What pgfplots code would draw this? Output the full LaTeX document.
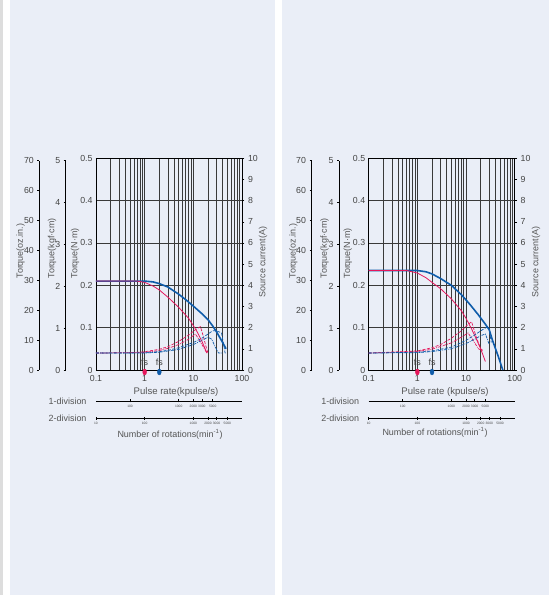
\documentclass[border=0pt]{standalone}
\usepackage{pgfplots}
\pgfplotsset{compat=1.18}
\usepackage{fontspec}
\setmainfont{Liberation Sans}
\definecolor{panel}{HTML}{EAEEF7}
\definecolor{strip}{HTML}{DDDDDD}
\definecolor{cred}{HTML}{E5175C}
\definecolor{cblue}{HTML}{0F5CAA}
\definecolor{txt}{HTML}{444444}
\definecolor{lbl}{HTML}{555555}
\definecolor{gridc}{HTML}{3A3A3A}
\tikzset{
  btq/.style={cblue, line width=1.6bp},
  rtq/.style={cred, line width=0.8bp},
  dsh/.style={line width=0.7bp, dash pattern=on 3bp off 1.5bp},
  dsd/.style={line width=0.7bp, dash pattern=on 3bp off 1bp on 0.8bp off 1bp},
  tlf/.style={font=\fontsize{8.8}{9}\selectfont, text=txt},
  fsf/.style={font=\fontsize{9}{9}\selectfont, text=txt},
}
\pgfplotsset{/pgf/number format/assume math mode=true}
\begin{document}
\begin{tikzpicture}
\fill[strip] (0bp,0bp) rectangle (3bp,595bp);
\fill[panel] (10bp,0bp) rectangle (275bp,595bp);
\fill[panel] (282bp,0bp) rectangle (549bp,595bp);
\useasboundingbox (0bp,0bp) rectangle (549bp,595bp);

% ================= LEFT PANEL =================
\begin{axis}[scale only axis, width=146bp, height=211.7bp, anchor=south west, at={(96bp,225bp)},
    xmode=log, xmin=0.1, xmax=100, ymin=0, ymax=0.5, clip=false,
    xtick={0.1,1,10,100}, xticklabels={0.1,1,10,100},
    minor xtick={0.2,0.3,0.4,0.5,0.6,0.7,0.8,0.9,2,3,4,5,6,7,8,9,20,30,40,50,60,70,80,90},
    ytick={0,0.1,0.2,0.3,0.4,0.5}, yticklabels={0,0.1,0.2,0.3,0.4,0.5},
    xmajorgrids, xminorgrids, ymajorgrids,
    major grid style={gridc, line width=0.7bp},
    minor grid style={gridc, line width=0.7bp},
    major tick length=0pt, minor tick length=0pt,
    tick label style={tlf}, xticklabel style={yshift=-1.5bp},
    axis line style={black, line width=0.8bp}]
\addplot[btq] coordinates {(0.1,0.21)(1,0.21)(1.5,0.208)(2,0.204)(3,0.196)(5,0.179)(7,0.166)(10,0.151)(15,0.133)(20,0.119)(25,0.104)(30,0.09)(40,0.065)(47,0.05)};
\addplot[rtq] coordinates {(0.1,0.21)(0.7,0.21)(1,0.207)(1.5,0.198)(2,0.189)(3,0.172)(5,0.148)(8,0.122)(10,0.105)(12,0.09)(15,0.068)(19,0.04)};
\addplot[only marks, mark=*, mark size=3bp, mark options={xscale=0.65, yshift=-2bp, draw=cred, fill=cred}] coordinates {(1,0)};
\addplot[only marks, mark=*, mark size=3bp, mark options={xscale=0.65, yshift=-2bp, draw=cblue, fill=cblue}] coordinates {(2,0)};
\node[fsf] at (axis cs:1,0.019) {fs};
\node[fsf] at (axis cs:2,0.019) {fs};
\end{axis}
\begin{axis}[scale only axis, width=146bp, height=211.7bp, anchor=south west, at={(96bp,225bp)},
    xmode=log, xmin=0.1, xmax=100, ymin=0, ymax=10,
    axis y line*=right, axis x line=none, ytick={0,1,...,10},
    tick align=outside, major tick length=2.5bp,
    tick style={black, line width=0.6bp}, tick label style={tlf},
    axis line style={black, line width=0.8bp}]
\addplot[cred, dsh] coordinates {(0.1,0.8)(0.5,0.82)(1,0.86)(2,0.98)(3,1.1)(5,1.35)(8,1.65)(11,1.9)(14,2.05)(16,1.6)(18,1.15)(20,0.8)};
\addplot[cred, dsd] coordinates {(0.1,0.8)(1,0.83)(2,0.92)(3,1.02)(5,1.2)(8,1.45)(11,1.7)(13,1.45)(16,1.1)(19,0.8)};
\addplot[cblue, dsh] coordinates {(0.1,0.8)(1,0.81)(2,0.87)(3,0.93)(5,1.05)(10,1.3)(15,1.5)(20,1.7)(25,1.85)(30,1.85)(38,1.75)(42,1.2)(45,0.8)(48,0.8)};
\addplot[cblue, dsd] coordinates {(0.1,0.8)(1,0.8)(2,0.84)(5,0.97)(10,1.2)(15,1.4)(20,1.55)(24,1.45)(28,1.1)(33,0.8)(40,0.8)};
\end{axis}
\begin{axis}[scale only axis, width=1bp, height=209.3bp, anchor=south west, at={(65.7bp,225bp)},
    xmin=0, xmax=1, ymin=0, ymax=5, ytick={0,1,...,5}, axis y line*=left, hide x axis,
    tick align=outside, major tick length=2bp,
    tick style={black, line width=0.6bp}, tick label style={tlf},
    axis line style={black, line width=0.8bp}]
\end{axis}
\begin{axis}[scale only axis, width=1bp, height=209.3bp, anchor=south west, at={(39.3bp,225bp)},
    xmin=0, xmax=1, ymin=0, ymax=70, ytick={0,10,...,70}, axis y line*=left, hide x axis,
    tick align=outside, major tick length=2bp,
    tick style={black, line width=0.6bp}, tick label style={tlf},
    axis line style={black, line width=0.8bp}]
\end{axis}
\begin{axis}[scale only axis, width=146bp, height=5bp, anchor=south west, at={(96bp,194bp)},
    xmode=log, xmin=0.1, xmax=100, ymin=0, ymax=1, axis x line*=bottom, hide y axis,
    xtick={0.5,5,10,15,25}, xticklabels={100,1000,2000,3000,5000},
    tick align=center, major tick length=3bp, minor tick length=0pt,
    tick style={black, line width=0.6bp},
    xticklabel style={font=\fontsize{3.3}{3.5}\selectfont, text=txt, yshift=1bp},
    axis line style={black, line width=0.6bp}]
\end{axis}
\begin{axis}[scale only axis, width=146bp, height=5bp, anchor=south west, at={(96bp,176.7bp)},
    xmode=log, xmin=0.1, xmax=100, ymin=0, ymax=1, axis x line*=bottom, hide y axis,
    xtick={0.1,1,10,20,30,50}, xticklabels={10,100,1000,2000,3000,5000},
    tick align=center, major tick length=3bp, minor tick length=0pt,
    tick style={black, line width=0.6bp},
    xticklabel style={font=\fontsize{3.3}{3.5}\selectfont, text=txt, yshift=1bp},
    axis line style={black, line width=0.6bp}]
\end{axis}
\begin{scope}[font=\fontsize{9}{9}\selectfont, text=lbl]
\node[rotate=90, anchor=west] at (20.5bp,313bp) {Torque(oz.in.)};
\node[rotate=90, anchor=west] at (52bp,313bp) {Torque(kgf·cm)};
\node[rotate=90, anchor=west] at (75bp,313bp) {Torque(N·m)};
\node[rotate=90] at (263bp,333bp) {Source current(A)};
\node[anchor=east] at (90bp,194bp) {1-division};
\node[anchor=east] at (90bp,176.3bp) {2-division};
\node at (170bp,161bp) {Number of rotations(min\textsuperscript{-1})};
\node[font=\fontsize{9.6}{10}\selectfont] at (176bp,203.3bp) {Pulse rate(kpulse/s)};
\end{scope}

% ================= RIGHT PANEL =================
\begin{axis}[scale only axis, width=146bp, height=211.7bp, anchor=south west, at={(368.7bp,225bp)},
    xmode=log, xmin=0.1, xmax=100, ymin=0, ymax=0.5, clip=false,
    xtick={0.1,1,10,100}, xticklabels={0.1,1,10,100},
    minor xtick={0.2,0.3,0.4,0.5,0.6,0.7,0.8,0.9,2,3,4,5,6,7,8,9,20,30,40,50,60,70,80,90},
    ytick={0,0.1,0.2,0.3,0.4,0.5}, yticklabels={0,0.1,0.2,0.3,0.4,0.5},
    xmajorgrids, xminorgrids, ymajorgrids,
    major grid style={gridc, line width=0.7bp},
    minor grid style={gridc, line width=0.7bp},
    major tick length=0pt, minor tick length=0pt,
    tick label style={tlf}, xticklabel style={yshift=-1.5bp},
    axis line style={black, line width=0.8bp}]
\addplot[btq] coordinates {(0.1,0.235)(1,0.235)(1.5,0.232)(2,0.227)(3,0.216)(5,0.2)(8,0.178)(12,0.155)(18,0.13)(25,0.108)(30,0.095)(35,0.07)(45,0.035)(57,0)};
\addplot[rtq] coordinates {(0.1,0.235)(0.6,0.235)(1,0.229)(1.5,0.218)(2,0.207)(3,0.192)(5,0.168)(8,0.14)(10,0.122)(13,0.097)(16,0.075)(20,0.05)(25,0.02)};
\addplot[only marks, mark=*, mark size=3bp, mark options={xscale=0.65, yshift=-2bp, draw=cred, fill=cred}] coordinates {(1,0)};
\addplot[only marks, mark=*, mark size=3bp, mark options={xscale=0.65, yshift=-2bp, draw=cblue, fill=cblue}] coordinates {(2,0)};
\node[fsf] at (axis cs:1,0.019) {fs};
\node[fsf] at (axis cs:2,0.019) {fs};
\end{axis}
\begin{axis}[scale only axis, width=146bp, height=211.7bp, anchor=south west, at={(368.7bp,225bp)},
    xmode=log, xmin=0.1, xmax=100, ymin=0, ymax=10,
    axis y line*=right, axis x line=none, ytick={0,1,...,10},
    tick align=outside, major tick length=2.5bp,
    tick style={black, line width=0.6bp}, tick label style={tlf},
    axis line style={black, line width=0.8bp}]
\addplot[cred, dsh] coordinates {(0.1,0.8)(1,0.9)(2,1.05)(3,1.2)(5,1.5)(8,1.85)(11,2.15)(13,2.28)(16,1.6)(20,1.0)(23,0.9)};
\addplot[cred, dsd] coordinates {(0.1,0.8)(1,0.87)(2,0.98)(5,1.28)(8,1.55)(11,1.75)(14,1.4)(18,1.0)(22,0.9)};
\addplot[cblue, dsh] coordinates {(0.1,0.8)(1,0.84)(2,0.9)(5,1.08)(10,1.4)(15,1.65)(20,1.85)(28,2.05)(30,1.9)(33,1.3)};
\addplot[cblue, dsd] coordinates {(0.1,0.8)(1,0.82)(2,0.87)(5,1.0)(10,1.25)(15,1.45)(20,1.62)(25,1.7)(28,1.4)(30,1.2)};
\end{axis}
\begin{axis}[scale only axis, width=1bp, height=209.3bp, anchor=south west, at={(339bp,225bp)},
    xmin=0, xmax=1, ymin=0, ymax=5, ytick={0,1,...,5}, axis y line*=left, hide x axis,
    tick align=outside, major tick length=2bp,
    tick style={black, line width=0.6bp}, tick label style={tlf},
    axis line style={black, line width=0.8bp}]
\end{axis}
\begin{axis}[scale only axis, width=1bp, height=209.3bp, anchor=south west, at={(311.5bp,225bp)},
    xmin=0, xmax=1, ymin=0, ymax=70, ytick={0,10,...,70}, axis y line*=left, hide x axis,
    tick align=outside, major tick length=2bp,
    tick style={black, line width=0.6bp}, tick label style={tlf},
    axis line style={black, line width=0.8bp}]
\end{axis}
\begin{axis}[scale only axis, width=146bp, height=5bp, anchor=south west, at={(368.7bp,194bp)},
    xmode=log, xmin=0.1, xmax=100, ymin=0, ymax=1, axis x line*=bottom, hide y axis,
    xtick={0.5,5,10,15,25}, xticklabels={100,1000,2000,3000,5000},
    tick align=center, major tick length=3bp, minor tick length=0pt,
    tick style={black, line width=0.6bp},
    xticklabel style={font=\fontsize{3.3}{3.5}\selectfont, text=txt, yshift=1bp},
    axis line style={black, line width=0.6bp}]
\end{axis}
\begin{axis}[scale only axis, width=146bp, height=5bp, anchor=south west, at={(368.7bp,176.7bp)},
    xmode=log, xmin=0.1, xmax=100, ymin=0, ymax=1, axis x line*=bottom, hide y axis,
    xtick={0.1,1,10,20,30,50}, xticklabels={10,100,1000,2000,3000,5000},
    tick align=center, major tick length=3bp, minor tick length=0pt,
    tick style={black, line width=0.6bp},
    xticklabel style={font=\fontsize{3.3}{3.5}\selectfont, text=txt, yshift=1bp},
    axis line style={black, line width=0.6bp}]
\end{axis}
\begin{scope}[font=\fontsize{9}{9}\selectfont, text=lbl]
\node[rotate=90, anchor=west] at (293.3bp,313bp) {Torque(oz.in.)};
\node[rotate=90, anchor=west] at (324.5bp,313bp) {Torque(kgf·cm)};
\node[rotate=90, anchor=west] at (347.8bp,313bp) {Torque(N·m)};
\node[rotate=90] at (536bp,333bp) {Source current(A)};
\node[anchor=east] at (362.7bp,194bp) {1-division};
\node[anchor=east] at (362.7bp,176.3bp) {2-division};
\node at (435bp,162.3bp) {Number of rotations(min\textsuperscript{-1})};
\node[font=\fontsize{9.6}{10}\selectfont] at (445bp,203.3bp) {Pulse rate (kpulse/s)};
\end{scope}
\end{tikzpicture}
\end{document}
